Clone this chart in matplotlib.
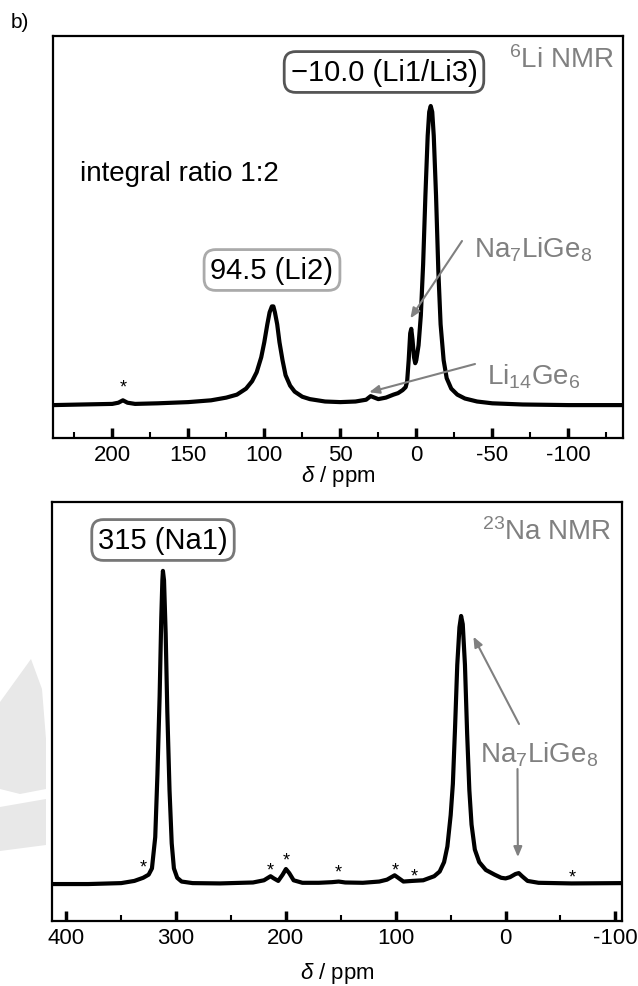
import matplotlib
matplotlib.use("Agg")
import matplotlib.pyplot as plt
from matplotlib.patches import Polygon

plt.rcParams['font.family'] = ['Liberation Sans', 'DejaVu Sans']
plt.rcParams['mathtext.fontset'] = 'custom'
plt.rcParams['mathtext.rm'] = 'Liberation Sans'
plt.rcParams['mathtext.it'] = 'Liberation Sans:italic'
plt.rcParams['axes.unicode_minus'] = False

W, H = 638, 987

# 6Li spectrum (ppm, normalised intensity)
li_ppm = [239, 220, 200, 196, 193, 190, 185, 170, 150, 135, 125, 118, 112, 108, 105,
          102, 100, 98, 96.5, 95, 94, 93, 91.5, 90, 88, 86, 83, 80, 75, 70, 60, 50,
          40, 33, 30, 28, 25, 20, 15, 12, 9, 7, 6, 5, 4, 3.3, 2.5, 1.5, 0.7, 0, -1.5,
          -3, -4.5, -6, -7.5, -8.5, -9.5, -10.5, -11.5, -13, -14.5, -16, -18, -20,
          -23, -27, -32, -40, -50, -70, -100, -136]
li_int = [0.0, 0.002, 0.004, 0.008, 0.016, 0.008, 0.004, 0.006, 0.010, 0.016, 0.025,
          0.035, 0.055, 0.08, 0.11, 0.16, 0.21, 0.27, 0.31, 0.33, 0.33, 0.31, 0.27,
          0.21, 0.15, 0.10, 0.065, 0.045, 0.028, 0.02, 0.012, 0.01, 0.012, 0.018,
          0.030, 0.026, 0.02, 0.025, 0.035, 0.04, 0.05, 0.06, 0.08, 0.15, 0.24, 0.255,
          0.22, 0.16, 0.14, 0.15, 0.2, 0.3, 0.47, 0.7, 0.9, 0.98, 1.0, 0.98, 0.9, 0.7,
          0.45, 0.27, 0.15, 0.09, 0.055, 0.035, 0.022, 0.012, 0.006, 0.002, 0.0, 0.0]

# 23Na spectrum
na_ppm = [413, 380, 350, 338, 330, 325, 322, 319, 317, 315, 313.5, 312.5, 312, 311,
          309.5, 308, 306, 304, 302, 299, 295, 285, 260, 230, 220, 214, 211, 207, 203,
          200, 197, 193, 185, 170, 158, 152, 146, 130, 115, 108, 101, 97, 93, 85, 75,
          65, 60, 56, 53, 50, 48, 46, 44, 42, 40.5, 39, 37, 35, 33, 31, 28, 24, 18, 10,
          4, 0, -4, -9, -12, -15, -20, -30, -60, -106]
na_int = [0.0, 0.0, 0.003, 0.01, 0.02, 0.03, 0.05, 0.15, 0.35, 0.6, 0.85, 0.97, 1.0,
          0.97, 0.8, 0.55, 0.3, 0.13, 0.05, 0.02, 0.008, 0.003, 0.002, 0.005, 0.012,
          0.025, 0.018, 0.01, 0.03, 0.048, 0.035, 0.012, 0.004, 0.004, 0.006, 0.008,
          0.005, 0.004, 0.008, 0.014, 0.028, 0.018, 0.008, 0.01, 0.012, 0.025, 0.04,
          0.07, 0.12, 0.22, 0.32, 0.5, 0.7, 0.82, 0.856, 0.83, 0.7, 0.48, 0.3, 0.19,
          0.11, 0.07, 0.045, 0.03, 0.02, 0.018, 0.022, 0.032, 0.035, 0.025, 0.01,
          0.004, 0.002, 0.003]

# spinning sidebands (asterisks)
li_star_ppm = [193]
li_star_y = [0.06]
na_star_ppm = [330, 214, 199.5, 152.5, 100.5, 83, -61]
na_star_y = [0.055, 0.045, 0.077, 0.04, 0.045, 0.025, 0.022]

li_ticks = [200, 150, 100, 50, 0, -50, -100]
li_minor = [225, 175, 125, 75, 25, -25, -75, -125]
na_ticks = [400, 300, 200, 100, 0, -100]
na_minor = [350, 250, 150, 50, -50]

gray = '#808080'


def fpos(x, y):
    # pixel (top-left origin) -> figure fraction
    return (x / W, 1 - y / H)


def style_ax(ax, ticks, minor, pad, labelpad):
    ax.set_yticks([])
    ax.set_xticks(ticks)
    ax.set_xticks(minor, minor=True)
    ax.set_xticklabels([str(t) for t in ticks])
    ax.tick_params(axis='x', which='major', direction='in', length=7, width=2.5,
                   labelsize=16, pad=pad)
    ax.tick_params(axis='x', which='minor', direction='in', length=4, width=1.5)
    for s in ax.spines.values():
        s.set_linewidth(1.6)
    ax.set_xlabel(r'$\it{\delta}$ / ppm', fontsize=16, labelpad=labelpad)


fig = plt.figure(figsize=(W / 100, H / 100), dpi=100)

# faint watermark shapes on the left edge
for pts in ([(0, 703), (31, 660), (42, 690), (46, 740), (46, 790), (20, 795), (0, 790)],
            [(0, 808), (46, 800), (46, 846), (0, 852)]):
    fig.patches.append(Polygon([fpos(x, y) for x, y in pts], closed=True,
                               transform=fig.transFigure, facecolor='#e8e8e8',
                               edgecolor='none', zorder=0))

ax1 = fig.add_axes([53 / W, 1 - 439 / H, 570 / W, 402 / H])
ax1.plot(li_ppm, li_int, color='black', lw=3.0, solid_joinstyle='round')
ax1.set_xlim(239, -136)
ax1.set_ylim(-0.110, 1.234)
style_ax(ax1, li_ticks, li_minor, pad=4, labelpad=-1)
for p, y in zip(li_star_ppm, li_star_y):
    ax1.text(p, y, '*', fontsize=13, ha='center', va='center')

fig.text(*fpos(384, 73), '\u221210.0 (Li1/Li3)', fontsize=21, ha='center', va='center',
         bbox=dict(boxstyle='round,pad=0.22,rounding_size=0.4', fc='white',
                   ec='#555555', lw=2))
fig.text(*fpos(272, 271), '94.5 (Li2)', fontsize=21, ha='center', va='center',
         bbox=dict(boxstyle='round,pad=0.22,rounding_size=0.4', fc='white',
                   ec='#aaaaaa', lw=2))
fig.text(*fpos(80, 174), 'integral ratio 1:2', fontsize=20, ha='left', va='center')
fig.text(*fpos(614, 60), r'$^{6}$Li NMR', fontsize=20, ha='right', va='center',
         color=gray)
fig.text(*fpos(474, 250), r'Na$_{7}$LiGe$_{8}$', fontsize=20, ha='left', va='center',
         color=gray)
fig.text(*fpos(487, 377), r'Li$_{14}$Ge$_{6}$', fontsize=20, ha='left', va='center',
         color=gray)

arrow = dict(arrowstyle='-|>,head_length=0.6,head_width=0.25', color=gray, lw=1.5,
             shrinkA=0, shrinkB=0)
ax1.annotate('', xy=(3.9, 0.29), xytext=fpos(462, 242), textcoords='figure fraction',
             arrowprops=arrow)
ax1.annotate('', xy=(31, 0.043), xytext=fpos(475, 365), textcoords='figure fraction',
             arrowprops=arrow)

ax2 = fig.add_axes([52 / W, 1 - 922 / H, 570 / W, 419 / H])
ax2.plot(na_ppm, na_int, color='black', lw=3.0, solid_joinstyle='round')
ax2.set_xlim(413, -106)
ax2.set_ylim(-0.118, 1.220)
style_ax(ax2, na_ticks, na_minor, pad=4, labelpad=9)
for p, y in zip(na_star_ppm, na_star_y):
    ax2.text(p, y, '*', fontsize=13, ha='center', va='center')

fig.text(*fpos(163, 541), '315 (Na1)', fontsize=21, ha='center', va='center',
         bbox=dict(boxstyle='round,pad=0.22,rounding_size=0.4', fc='white',
                   ec='#777777', lw=2))
fig.text(*fpos(612, 532), r'$^{23}$Na NMR', fontsize=20, ha='right', va='center',
         color=gray)
fig.text(*fpos(480, 755), r'Na$_{7}$LiGe$_{8}$', fontsize=20, ha='left', va='center',
         color=gray)
ax2.annotate('', xy=(29.3, 0.79), xytext=fpos(519, 725), textcoords='figure fraction',
             arrowprops=arrow)
ax2.annotate('', xy=(-11.2, 0.086), xytext=fpos(517.5, 770), textcoords='figure fraction',
             arrowprops=arrow)

fig.text(*fpos(20, 22), 'b)', fontsize=15, ha='center', va='center')

fig.savefig('out.png', dpi=100)
